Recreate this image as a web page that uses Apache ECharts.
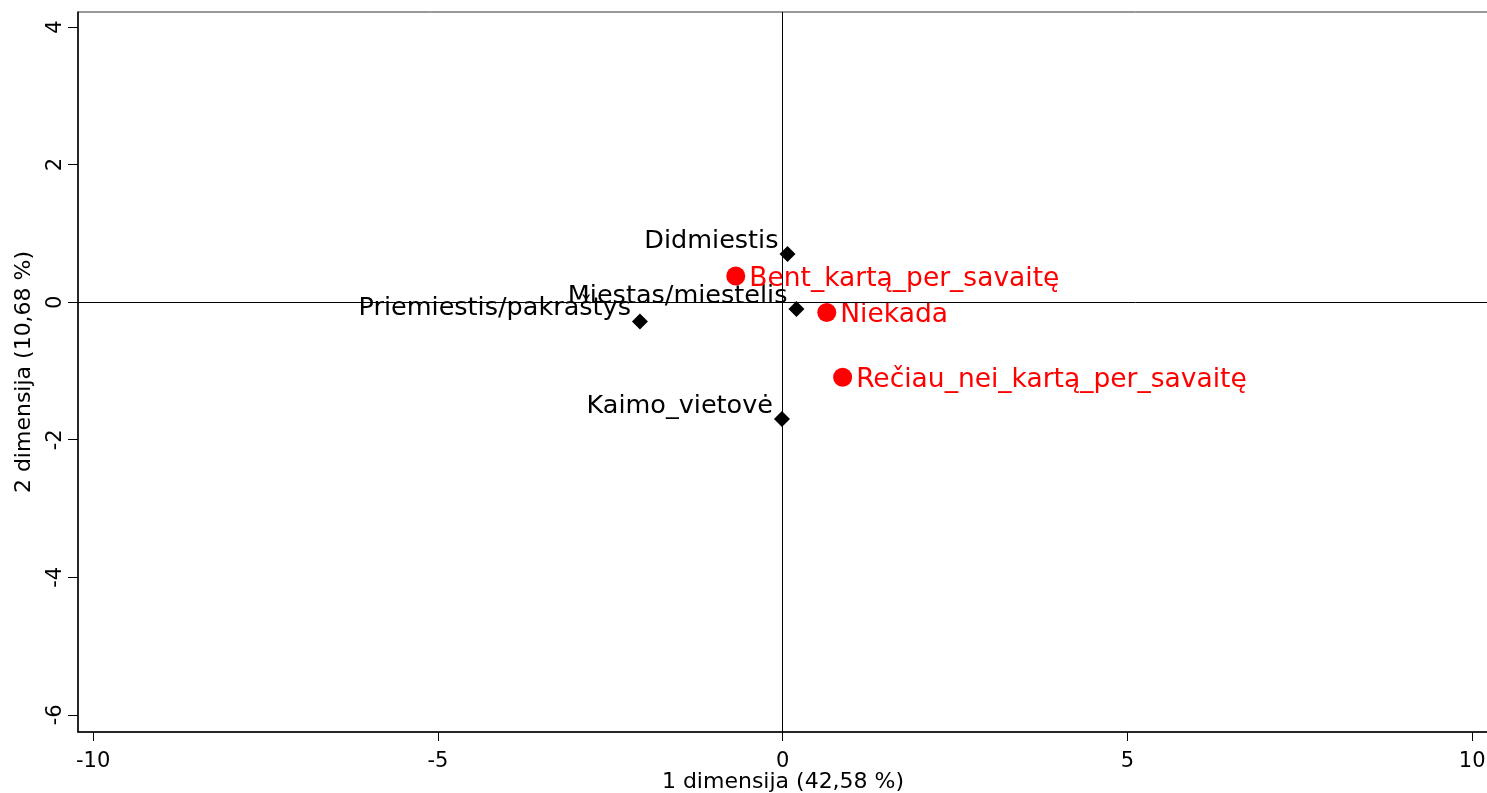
<!DOCTYPE html>
<html>
<head>
<meta charset="utf-8">
<script src="https://cdn.jsdelivr.net/npm/echarts@6/dist/echarts.min.js"></script>
<style>
  html, body { margin: 0; padding: 0; background: #fff; }
  #container { width: 1487px; height: 793px; }
</style>
</head>
<body>
<div id="container"></div>
<script>
// row categories (black diamonds)
var rowNames = ["Didmiestis", "Miestas/miestelis", "Priemiestis/pakraštys", "Kaimo_vietovė"];
var rowX = [0.07, 0.20, -2.07, -0.01];
var rowY = [0.70, -0.10, -0.28, -1.70];

// column categories (red circles)
var colNames = ["Bent_kartą_per_savaitę", "Niekada", "Rečiau_nei_kartą_per_savaitę"];
var colX = [-0.68, 0.64, 0.87];
var colY = [0.38, -0.15, -1.09];

var xTicks = [-10, -5, 0, 5, 10];
var yTicks = [4, 2, 0, -2, -4, -6];

var font = "DejaVu Sans";

function pts(names, xs, ys) {
    return names.map(function (n, i) { return { name: n, value: [xs[i], ys[i]] }; });
}

var chart = echarts.init(document.getElementById("container"), null, { renderer: "canvas" });

var option = {
    animation: false,
    backgroundColor: "#fff",
    textStyle: { fontFamily: font },
    grid: {
        left: 78, top: 12, right: -1, bottom: 61,
        outerBoundsMode: "none",
        containLabel: false,
        show: true, borderColor: "#333", borderWidth: 1, backgroundColor: "transparent"
    },
    xAxis: {
        type: "value",
        min: -10.22, max: 10.23,
        splitLine: { show: false },
        axisLine: { onZero: false, lineStyle: { color: "#000", width: 1.5 } },
        axisTick: { show: true, length: 9, customValues: xTicks, lineStyle: { color: "#000" } },
        axisLabel: { customValues: xTicks, color: "#000", fontSize: 21, margin: 19, fontFamily: font },
        name: "1 dimensija (42,58 %)",
        nameLocation: "middle",
        nameGap: 39,
        nameMoveOverlap: false,
        nameTextStyle: { color: "#000", fontSize: 22, fontFamily: font }
    },
    yAxis: {
        type: "value",
        min: -6.25, max: 4.22,
        splitLine: { show: false },
        axisLine: { onZero: false, lineStyle: { color: "#000", width: 1.5 } },
        axisTick: { show: true, length: 10, customValues: yTicks, lineStyle: { color: "#000" } },
        axisLabel: { customValues: yTicks, rotate: 90, color: "#000", fontSize: 21, margin: 12, fontFamily: font },
        name: "2 dimensija (10,68 %)",
        nameLocation: "middle",
        nameGap: 43,
        nameMoveOverlap: false,
        nameTextStyle: { color: "#000", fontSize: 22, fontFamily: font }
    },
    series: [
        {
            type: "scatter",
            name: "rows",
            symbol: "diamond",
            symbolSize: 16,
            itemStyle: { color: "#000", opacity: 1 },
            data: pts(rowNames, rowX, rowY),
            label: {
                show: true,
                position: "left",
                distance: 1,
                offset: [0, -13],
                formatter: "{b}",
                color: "#000",
                fontSize: 25.5,
                fontFamily: font
            },
            markLine: {
                silent: true,
                symbol: "none",
                label: { show: false },
                lineStyle: { color: "#000", width: 1, type: "solid", opacity: 1 },
                data: [{ xAxis: 0 }, { yAxis: 0 }]
            },
            z: 3
        },
        {
            type: "scatter",
            name: "cols",
            symbol: "circle",
            symbolSize: 19,
            itemStyle: { color: "#ff0000", opacity: 1 },
            data: pts(colNames, colX, colY),
            label: {
                show: true,
                position: "right",
                distance: 4,
                offset: [0, 3],
                formatter: "{b}",
                color: "#ff0000",
                fontSize: 26.5,
                fontFamily: font
            },
            z: 3
        }
    ]
};

chart.setOption(option);
window.addEventListener("resize", chart.resize);
</script>
</body>
</html>
